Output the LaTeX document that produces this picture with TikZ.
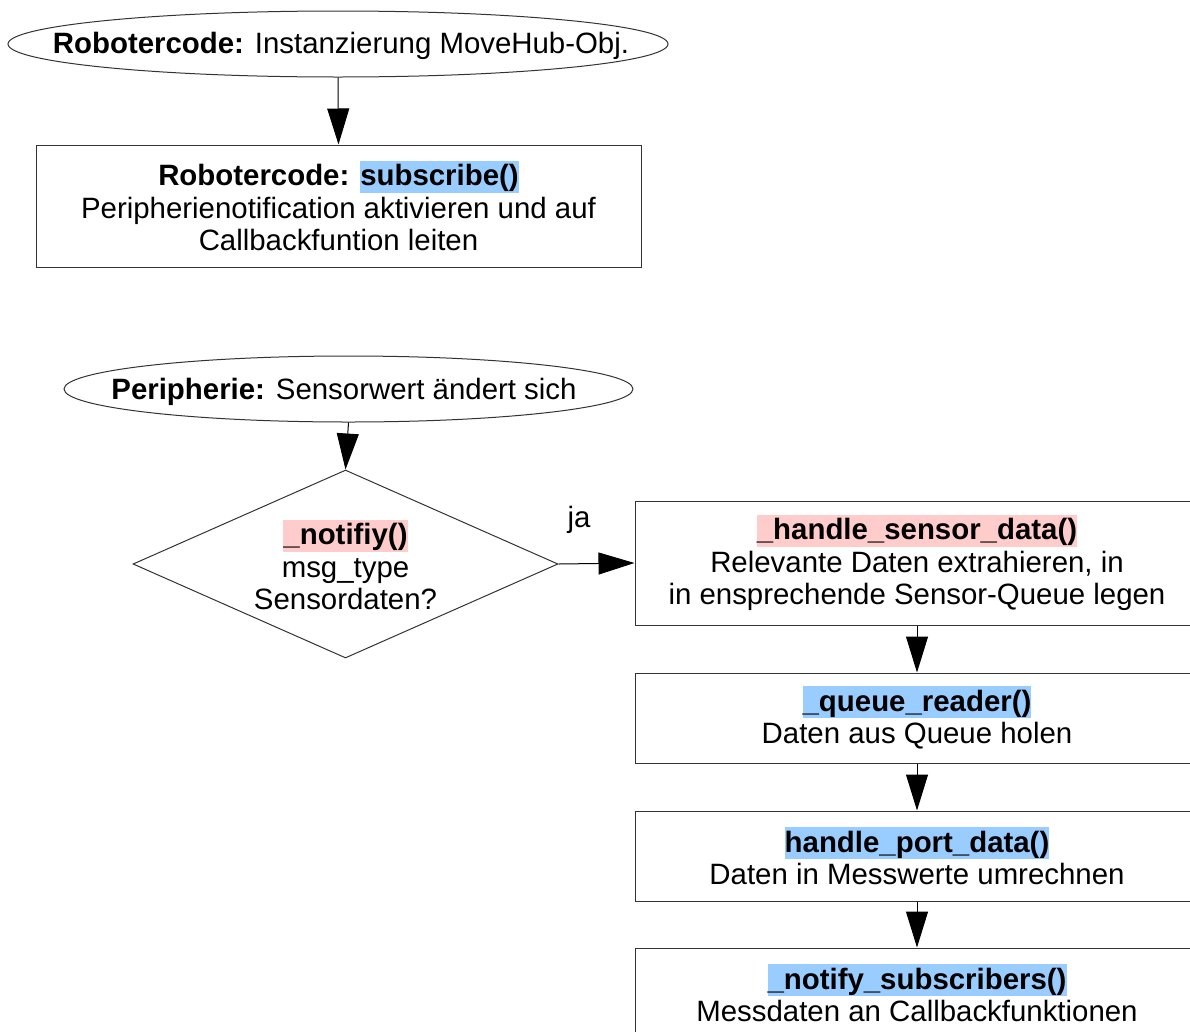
\documentclass[tikz,border=0pt]{standalone}
\usepackage{fontspec}
\setmainfont{Liberation Sans}
\usetikzlibrary{shapes.geometric,arrows.meta}
\definecolor{hlblue}{HTML}{99CCFF}
\definecolor{hlpink}{HTML}{FFCCCC}
\definecolor{edge}{HTML}{333333}
\newcommand\hlb[1]{{\setlength{\fboxsep}{0pt}\colorbox{hlblue}{\rule[-7pt]{0pt}{32pt}#1}}}
\newcommand\hlr[1]{{\setlength{\fboxsep}{0pt}\colorbox{hlpink}{\rule[-7pt]{0pt}{32pt}#1}}}
\tikzset{
  txt/.style={font=\fontsize{29.4}{32.5}\selectfont, align=center, inner sep=0pt},
  ell/.style={ellipse, draw=edge, line width=1pt, inner sep=0pt, minimum height=66pt},
  stepbox/.style={rectangle, draw=edge, line width=1pt, inner sep=0pt, minimum width=564pt, minimum height=90pt, txt},
  dia/.style={diamond, draw=edge, line width=1pt, inner sep=0pt, minimum width=425pt, minimum height=188pt},
  conn/.style={draw=black, line width=1pt, -{Triangle[length=36pt,width=22pt]}}
}
\begin{document}
\begin{tikzpicture}[x=1pt,y=-1pt]
\useasboundingbox (0,0) rectangle (1190,1031);
\clip (0,0) rectangle (1190,1031);
\fill[white] (0,0) rectangle (1190,1031);

\node[ell, minimum width=660pt] (e1) at (338,44) {};
\node[txt] (e1t) at (341,46) {\textbf{Robotercode:} Instanzierung MoveHub-Obj.};

\node[stepbox, minimum width=605pt, minimum height=122pt] (b1) at (338.5,206)
  {\textbf{Robotercode: \hlb{subscribe()}}\\Peripherienotification aktivieren und auf\\Callbackfuntion leiten};

\node[ell, minimum width=569pt] (e2) at (348.5,389) {};
\node[txt] (e2t) at (344,391.5) {\textbf{Peripherie:} Sensorwert ändert sich};

\node[dia] (d) at (345.5,564) {};
\node[txt] (dt) at (345.5,565) {\textbf{\hlr{\_notifiy()}}\\msg\_type\\Sensordaten?};

\node[stepbox, minimum height=124pt] (b2) at (917,563)
  {\textbf{\hlr{\_handle\_sensor\_data()}}\\Relevante Daten extrahieren, in\\in ensprechende Sensor-Queue legen};
\node[stepbox] (b3) at (917,718)
  {\textbf{\hlb{\_queue\_reader()}}\\Daten aus Queue holen};
\node[stepbox] (b4) at (917,856)
  {\textbf{\hlb{handle\_port\_data()}}\\Daten in Messwerte umrechnen};
\node[stepbox] (b5) at (917,993)
  {\textbf{\hlb{\_notify\_subscribers()}}\\Messdaten an Callbackfunktionen};

\node[txt] (ja) at (579,520) {ja};

\draw[conn] (e1.south) -- (b1.north);
\draw[conn] (e2.south) -- (d.north);
\draw[conn] (d.east) -- (b2.west);
\draw[conn] (b2.south) -- (b3.north);
\draw[conn] (b3.south) -- (b4.north);
\draw[conn] (b4.south) -- (b5.north);
\end{tikzpicture}
\end{document}
